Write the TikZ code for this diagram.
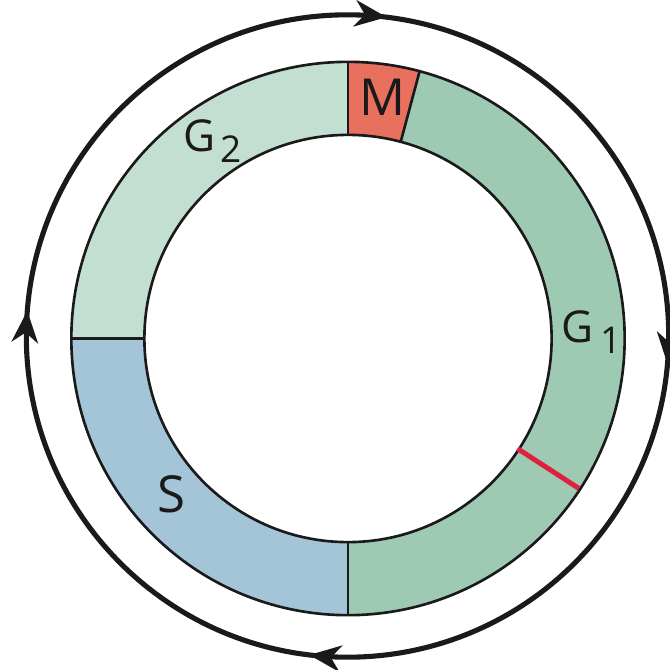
\documentclass[tikz,border=0pt]{standalone}
\usepackage{fontspec}
\setmainfont{Open Sans}
\usetikzlibrary{arrows.meta,decorations.markings}
\definecolor{mcol}{HTML}{E8705F}
\definecolor{gonecol}{HTML}{9ECAB4}
\definecolor{gtwocol}{HTML}{C3DFD1}
\definecolor{scol}{HTML}{A4C4D7}
\definecolor{redmark}{HTML}{E0203F}
\definecolor{ink}{HTML}{1A1A1A}
\begin{document}
\begin{tikzpicture}[x=0.01cm,y=0.01cm,
  ringline/.style={draw=ink, line width=0.75pt},
  lbl/.style={inner sep=0pt, anchor=base west, text=ink},
  cyclearrow/.style={draw=ink, line width=1.45pt, postaction={decorate},
    decoration={markings,
      mark=at position 0.0194 with {\arrow{Stealth[length=9pt,width=7.5pt,inset=2.8pt]}},
      mark=at position 0.264 with {\arrow{Stealth[length=9pt,width=7.5pt,inset=2.8pt]}},
      mark=at position 0.519 with {\arrow{Stealth[length=9pt,width=7.5pt,inset=2.8pt]}},
      mark=at position 0.7625 with {\arrow{Stealth[length=9pt,width=7.5pt,inset=2.8pt]}}}}]
\useasboundingbox (0,0) rectangle (670,669);
\coordinate (C) at (348,330.5);
\coordinate (A) at (347.5,333);
\begin{scope}[shift={(C)}]
  \fill[gtwocol] (180:2.765cm) arc[start angle=180, end angle=90, radius=2.765cm] -- (90:2.035cm) arc[start angle=90, end angle=180, radius=2.035cm] -- cycle;
  \fill[mcol] (90:2.765cm) arc[start angle=90, end angle=75, radius=2.765cm] -- (75:2.035cm) arc[start angle=75, end angle=90, radius=2.035cm] -- cycle;
  \fill[gonecol] (75:2.765cm) arc[start angle=75, end angle=-90, radius=2.765cm] -- (-90:2.035cm) arc[start angle=-90, end angle=75, radius=2.035cm] -- cycle;
  \fill[scol] (-90:2.765cm) arc[start angle=-90, end angle=-180, radius=2.765cm] -- (180:2.035cm) arc[start angle=180, end angle=270, radius=2.035cm] -- cycle;
  \draw[ringline] (0,0) circle[radius=2.765cm];
  \draw[ringline] (0,0) circle[radius=2.035cm];
  \draw[ringline] (90:2.035cm) -- (90:2.765cm);
  \draw[ringline] (75:2.035cm) -- (75:2.765cm);
  \draw[ringline] (180:2.035cm) -- (180:2.765cm);
  \draw[ringline] (270:2.035cm) -- (270:2.765cm);
  \draw[redmark, line width=1.4pt] (-33:2.02cm) -- (-33:2.75cm);
\end{scope}
\draw[cyclearrow] (A) ++(90:3.21cm) arc[start angle=90, end angle=-270, radius=3.21cm];
\node[lbl, font=\fontsize{14.5}{14.5}\selectfont] (m) at (359,554) {M};
\node[lbl, font=\fontsize{14.5}{14.5}\selectfont] (s) at (157,157) {S};
\node[lbl, font=\fontsize{12.5}{12.5}\selectfont] (g2) at (183,518) {G\hspace{1.5pt}\raisebox{-3.2pt}{\fontsize{10.5}{10.5}\selectfont 2}};
\node[lbl, font=\fontsize{12.5}{12.5}\selectfont] (g1) at (561,327) {G\hspace{2pt}\raisebox{-3.4pt}{\fontsize{10.5}{10.5}\selectfont 1}};
\end{tikzpicture}
\end{document}
